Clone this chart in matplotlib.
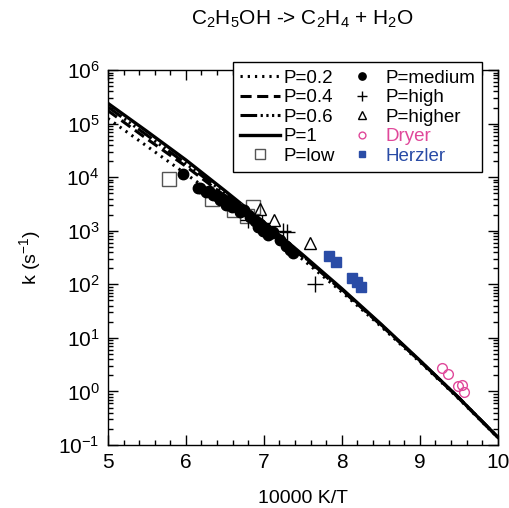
import numpy as np
from matplotlib import pyplot as plt
from matplotlib.ticker import MultipleLocator, LogLocator, NullFormatter

plt.rcParams["font.family"] = ["Liberation Sans", "DejaVu Sans"]
plt.rcParams["mathtext.fontset"] = "custom"
plt.rcParams["mathtext.rm"] = "Liberation Sans"
plt.rcParams["mathtext.it"] = "Liberation Sans"
plt.rcParams["lines.scale_dashes"] = False

# calculated rate constants, 10000 K/T grid
x_calc = [5.0, 5.5, 6.0, 6.5, 7.0, 7.5, 8.0, 8.5, 9.0, 9.5, 10.0]
k_p1 = [2.4e5, 7.2e4, 2.1e4, 5.6e3, 1.45e3, 355, 83, 18.2, 3.8, 0.76, 0.14]
k_p06 = [2.05e5, 6.1e4, 1.8e4, 5.0e3, 1.35e3, 340, 80, 17.8, 3.75, 0.76, 0.14]
k_p04 = [1.75e5, 5.2e4, 1.6e4, 4.5e3, 1.26e3, 325, 78, 17.4, 3.7, 0.75, 0.14]
k_p02 = [1.25e5, 3.8e4, 1.15e4, 3.5e3, 1.05e3, 290, 72, 16.5, 3.55, 0.73, 0.138]

# measurements
x_low = [5.78, 6.33, 6.86, 6.62, 6.78]
k_low = [9.3e3, 4.0e3, 2.8e3, 2.4e3, 1.9e3]

x_med = [5.96, 6.15, 6.18, 6.26, 6.3, 6.35, 6.4, 6.44, 6.48, 6.52, 6.56, 6.59, 6.64,
         6.69, 6.74, 6.82, 6.88, 6.92, 6.95, 6.99, 7.03, 7.05, 7.1, 7.12, 7.21, 7.28,
         7.33, 7.38]
k_med = [1.15e4, 6.4e3, 6.3e3, 5.2e3, 5.6e3, 4.7e3, 4.4e3, 3.7e3, 3.9e3, 3.0e3, 3.3e3,
         2.75e3, 2.9e3, 2.25e3, 2.4e3, 1.8e3, 1.5e3, 1.2e3, 1.35e3, 1.0e3, 1.1e3, 8.3e2,
         9.0e2, 9.5e2, 6.8e2, 5.2e2, 4.4e2, 3.8e2]

x_high = [6.8, 6.97, 7.24, 7.3, 7.66]
k_high = [1.6e3, 1.4e3, 1.0e3, 9.5e2, 1.0e2]

x_higher = [6.95, 7.13, 7.59]
k_higher = [2.6e3, 1.6e3, 5.8e2]

x_dryer = [9.28, 9.36, 9.49, 9.54, 9.57]
k_dryer = [2.7, 2.1, 1.24, 1.32, 0.96]

x_herzler = [7.84, 7.92, 8.13, 8.19, 8.25]
k_herzler = [340, 260, 130, 110, 88]

pink = "#e0489a"
blue = "#2a4ca6"

fig = plt.figure(figsize=(5.09, 5.08), dpi=100)
ax = fig.add_axes([0.212, 0.124, 0.766, 0.738])

l02, = ax.plot(x_calc, k_p02, color="black", lw=2.2, dashes=(1.6, 3.6), label="P=0.2")
l04, = ax.plot(x_calc, k_p04, color="black", lw=2.2, dashes=(8, 4), label="P=0.4")
l06, = ax.plot(x_calc, k_p06, color="black", lw=2.2,
               dashes=(12, 2.5, 1.6, 2.5, 1.6, 2.5, 1.6, 2.5), label="P=0.6")
l1, = ax.plot(x_calc, k_p1, color="black", lw=2.4, label="P=1")

m_low, = ax.plot(x_low, k_low, ls="none", marker="s", ms=10, mfc="none", mec="#555555",
                 mew=1.0, label="P=low")
m_med, = ax.plot(x_med, k_med, ls="none", marker="o", ms=7.5, color="black", label="P=medium")
m_high, = ax.plot(x_high, k_high, ls="none", marker="+", ms=11, color="black", mew=1.0,
                  label="P=high")
m_higher, = ax.plot(x_higher, k_higher, ls="none", marker="^", ms=8, mfc="none",
                    mec="black", mew=1.0, label="P=higher")
m_dryer, = ax.plot(x_dryer, k_dryer, ls="none", marker="o", ms=7, mfc="none", mec=pink,
                   mew=1.0, label="Dryer")
m_herzler, = ax.plot(x_herzler, k_herzler, ls="none", marker="s", ms=7, color=blue,
                     label="Herzler")

ax.set_yscale("log")
ax.set_xlim(5, 10)
ax.set_ylim(0.1, 1e6)
ax.xaxis.set_major_locator(MultipleLocator(1))
ax.xaxis.set_minor_locator(MultipleLocator(0.2))
ax.yaxis.set_major_locator(LogLocator(base=10, numticks=20))
ax.yaxis.set_minor_locator(LogLocator(base=10, subs=np.arange(2, 10), numticks=20))
ax.yaxis.set_minor_formatter(NullFormatter())
ax.tick_params(which="both", direction="in", top=True, right=True, labelsize=15,
               width=1.0)
ax.tick_params(which="major", length=7, pad=6)
ax.tick_params(which="minor", length=3.5)
for s in ax.spines.values():
    s.set_linewidth(1.0)

ax.set_xlabel("10000 K/T", fontsize=14, labelpad=13)
ax.set_ylabel(r"k (s$^{-1}$)", fontsize=14, labelpad=11)
fig.text(0.595, 0.962, r"C$_2$H$_5$OH -> C$_2$H$_4$ + H$_2$O", fontsize=15,
         ha="center", va="center")

handles = [l02, l04, l06, l1, m_low, m_med, m_high, m_higher, m_dryer, m_herzler]
leg = ax.legend(handles=handles, ncol=2, loc="upper left", bbox_to_anchor=(0.3205, 1.0213),
                fontsize=13.5, handlelength=2.13, handletextpad=0.16, columnspacing=0.4,
                labelspacing=0.13, borderpad=0.4, fancybox=False, framealpha=1,
                edgecolor="black", markerscale=0.7, borderaxespad=0)
leg.get_frame().set_linewidth(1.0)
leg.set_zorder(5)
for txt in leg.get_texts():
    if txt.get_text() == "Dryer":
        txt.set_color(pink)
    elif txt.get_text() == "Herzler":
        txt.set_color(blue)

fig.savefig("out.png", dpi=100)
